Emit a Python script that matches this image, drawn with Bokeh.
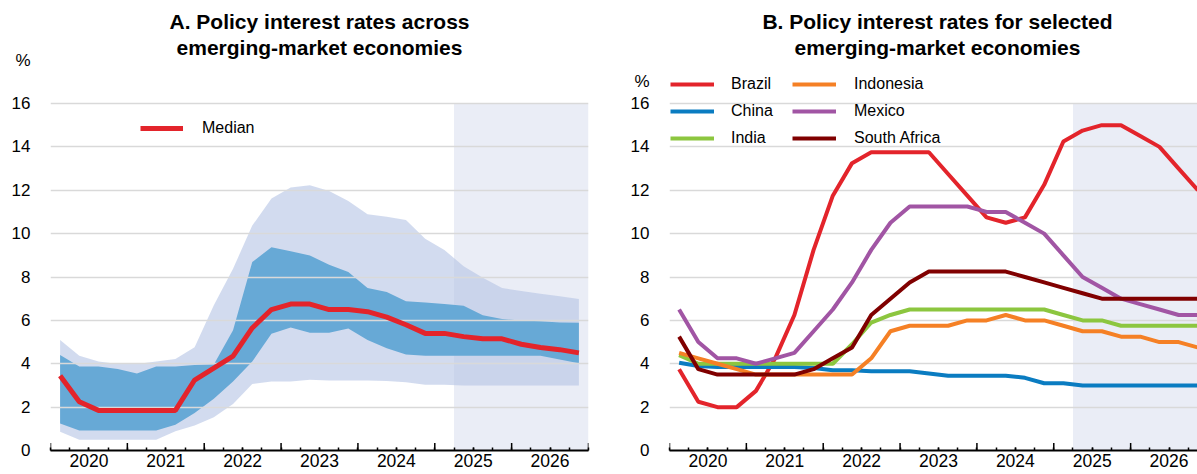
import math
from bokeh.plotting import figure
from bokeh.layouts import row
from bokeh.models import (FixedTicker, Label, Legend, LegendItem,
                          BoxAnnotation, Range1d, PrintfTickFormatter)
from bokeh.embed import file_html
from bokeh.resources import INLINE

# ---------------- data ----------------
years = list(range(2020, 2027))
quarters = [f"{y}Q{q}" for y in years for q in range(1, 5)]
forecast_start = 2025.25

# Panel A: distribution across EMEs
median = [3.45, 2.25, 1.85, 1.85, 1.85, 1.85, 1.85, 3.25, 3.8, 4.35, 5.65, 6.5, 6.75, 6.75,
          6.5, 6.5, 6.4, 6.15, 5.8, 5.4, 5.4, 5.25, 5.15, 5.15, 4.9, 4.75, 4.65, 4.5]
inner_hi = [4.4, 3.87, 3.87, 3.76, 3.55, 3.87, 3.87, 3.94, 3.97, 5.55, 8.69, 9.37, 9.19, 8.99,
            8.56, 8.23, 7.49, 7.31, 6.88, 6.82, 6.76, 6.67, 6.24, 6.06, 5.99, 5.96, 5.9, 5.89]
inner_lo = [1.24, 0.92, 0.92, 0.92, 0.92, 0.92, 1.19, 1.73, 2.39, 3.18, 4.1, 5.38, 5.67, 5.43,
            5.43, 5.63, 5.09, 4.71, 4.43, 4.37, 4.37, 4.37, 4.37, 4.37, 4.37, 4.37, 4.2, 4.02]
outer_hi = [5.09, 4.37, 4.1, 3.99, 3.99, 4.1, 4.22, 4.76, 6.7, 8.38, 10.37, 11.62, 12.13, 12.23,
            11.97, 11.51, 10.89, 10.78, 10.63, 9.76, 9.25, 8.49, 7.97, 7.49, 7.35, 7.23, 7.11, 6.99]
outer_lo = [0.86, 0.5, 0.5, 0.5, 0.5, 0.5, 0.89, 1.15, 1.53, 2.14, 3.07, 3.18, 3.18, 3.26,
            3.23, 3.23, 3.23, 3.21, 3.15, 3.03, 3.03, 3.0, 3.0, 3.0, 3.0, 3.0, 3.0, 3.0]

# Panel B: selected economies
brazil = [3.75, 2.25, 2.0, 2.0, 2.75, 4.25, 6.25, 9.25, 11.75, 13.25, 13.75, 13.75, 13.75, 13.75,
          12.75, 11.75, 10.75, 10.5, 10.75, 12.25, 14.25, 14.75, 15.0, 15.0, 14.5, 14.0, 13.0, 12.0]
china = [4.05, 3.9, 3.85, 3.85, 3.85, 3.85, 3.85, 3.8, 3.7, 3.7, 3.65, 3.65, 3.65, 3.55,
         3.45, 3.45, 3.45, 3.45, 3.35, 3.1, 3.1, 3.0, 3.0, 3.0, 3.0, 3.0, 3.0, 3.0]
india = [4.4, 4.0, 4.0, 4.0, 4.0, 4.0, 4.0, 4.0, 4.0, 4.9, 5.9, 6.25, 6.5, 6.5,
         6.5, 6.5, 6.5, 6.5, 6.5, 6.5, 6.25, 6.0, 6.0, 5.75, 5.75, 5.75, 5.75, 5.75]
indonesia = [4.5, 4.25, 4.0, 3.75, 3.5, 3.5, 3.5, 3.5, 3.5, 3.5, 4.25, 5.5, 5.75, 5.75,
             5.75, 6.0, 6.0, 6.25, 6.0, 6.0, 5.75, 5.5, 5.5, 5.25, 5.25, 5.0, 5.0, 4.75]
mexico = [6.5, 5.0, 4.25, 4.25, 4.0, 4.25, 4.5, 5.5, 6.5, 7.75, 9.25, 10.5, 11.25, 11.25,
          11.25, 11.25, 11.0, 11.0, 10.5, 10.0, 9.0, 8.0, 7.5, 7.0, 6.75, 6.5, 6.25, 6.25]
south_africa = [5.25, 3.75, 3.5, 3.5, 3.5, 3.5, 3.5, 3.75, 4.25, 4.75, 6.25, 7.0, 7.75, 8.25,
                8.25, 8.25, 8.25, 8.25, 8.0, 7.75, 7.5, 7.25, 7.0, 7.0, 7.0, 7.0, 7.0, 7.0]

countries = ["Brazil", "China", "India", "Indonesia", "Mexico", "South Africa"]
series_b = [brazil, china, india, indonesia, mexico, south_africa]
colors_b = ["#e3242b", "#0a7cc1", "#8cc63f", "#f58025", "#a155a4", "#800000"]

y_ticks = list(range(0, 17, 2))

# quarter mid-points on a continuous year axis
xq = [int(s[:4]) + (int(s[-1]) - 0.5) / 4 for s in quarters]

FONT = "Liberation Sans"
H = 474          # figure height (page y 0 .. 474)
BB = 24          # room for the x axis labels -> frame bottom at page y 450
FH = H - BB      # frame height (frame top at page y 0)
TOP16 = 103      # distance from frame top to the y=16 line
Y_TOP = 16 * FH / (FH - TOP16)


def page_to_frame(py):
    """page y (px from top of window) -> screen units above frame bottom"""
    return FH - py


def base_fig(width, left, right, x_end, pct_tick):
    p = figure(width=width, height=H, output_backend="svg", toolbar_location=None,
               x_range=Range1d(years[0], x_end), y_range=Range1d(0, Y_TOP),
               min_border_left=left, min_border_right=right,
               min_border_top=0, min_border_bottom=BB)
    p.outline_line_color = None
    p.background_fill_color = "white"
    p.xgrid.visible = False
    p.ygrid.ticker = FixedTicker(ticks=y_ticks[1:])
    p.ygrid.grid_line_color = "#d9d9d9"
    p.ygrid.grid_line_width = 1.5
    p.ygrid.level = "underlay"
    # y axis ("%" unit shown as an extra label above the top tick)
    p.yaxis.ticker = FixedTicker(ticks=y_ticks + [pct_tick])
    p.yaxis.major_label_overrides = {pct_tick: "%"}
    p.yaxis.axis_line_color = None
    p.yaxis.major_tick_line_color = None
    p.yaxis.minor_tick_line_color = None
    p.yaxis.major_label_text_font = FONT
    p.yaxis.major_label_text_font_size = "17px"
    p.yaxis.major_label_text_color = "#000000"
    p.yaxis.major_label_standoff = 14
    # x axis: labels at mid-year, short ticks every quarter
    ax = p.xaxis[0]
    ax.ticker = FixedTicker(ticks=[y + 0.5 for y in years],
                            minor_ticks=[y + q / 4 for y in years for q in range(4)] + [years[-1] + 1])
    ax.formatter = PrintfTickFormatter(format="%d")
    ax.axis_line_color = "#000000"
    ax.axis_line_width = 2
    ax.major_tick_in = 3
    ax.major_tick_out = 0
    ax.minor_tick_in = 3
    ax.minor_tick_out = 0
    ax.major_tick_line_color = "#000000"
    ax.minor_tick_line_color = "#000000"
    ax.major_tick_line_width = 1.5
    ax.minor_tick_line_width = 1.5
    ax.major_label_text_font = FONT
    ax.major_label_text_font_size = "17.5px"
    ax.major_label_text_color = "#000000"
    ax.major_label_standoff = 3
    # forecast shading (only up to the 16 line)
    shade = BoxAnnotation(left=forecast_start, bottom=0, top=16, fill_color="#eaedf6",
                          fill_alpha=1.0, line_color=None, level="image")
    p.add_layout(shade)
    return p


def add_year_ticks(p):
    # longer tick marks at the year boundaries
    p.scatter(x=years + [years[-1] + 1], y=[0] * (len(years) + 1), marker="dash",
              angle=math.pi / 2, size=15, line_color="#000000", line_width=1.5,
              fill_color=None)


def add_text(p, text, x, py, size="21px", bold=True):
    p.add_layout(Label(x=x, y=page_to_frame(py), x_units="screen", y_units="screen", text=text,
                       text_font=FONT, text_font_size=size,
                       text_font_style="bold" if bold else "normal",
                       text_color="#000000", text_align="center", text_baseline="alphabetic"))


# ---------------- Panel A ----------------
pa = base_fig(600, 50, 12, years[-1] + 1, 18)
pa.varea(x=xq, y1=outer_lo, y2=outer_hi, fill_color="#b4c3e4", fill_alpha=0.6, level="underlay")
pa.varea(x=xq, y1=inner_lo, y2=inner_hi, fill_color="#67a9d6", fill_alpha=1.0, level="underlay")
r_med = pa.line(x=xq, y=median, line_color="#e3242b", line_width=5)
add_year_ticks(pa)
leg_a = Legend(items=[LegendItem(label="Median", renderers=[r_med])],
               location=(90, page_to_frame(138)), padding=0, margin=0,
               border_line_color=None, background_fill_alpha=0,
               glyph_width=43, glyph_height=20, label_height=20, label_standoff=19,
               label_text_font=FONT, label_text_font_size="16px", label_text_color="#000000")
pa.add_layout(leg_a, "center")
add_text(pa, "A. Policy interest rates across", 269, 21)
add_text(pa, "emerging-market economies", 269, 47)

# ---------------- Panel B ----------------
pb = base_fig(597, 69, 0, 2026.87, 17)
rends = []
for name, vals, col in zip(countries, series_b, colors_b):
    rends.append(pb.line(x=xq, y=vals, line_color=col, line_width=4))
add_year_ticks(pb)

legend_common = dict(padding=0, margin=0, border_line_color=None, background_fill_alpha=0,
                     glyph_width=44, glyph_height=20, label_height=20, spacing=7,
                     label_text_font=FONT, label_text_font_size="16px", label_text_color="#000000")
leg_b1 = Legend(items=[LegendItem(label=countries[i], renderers=[rends[i]]) for i in range(3)],
                location=(1, page_to_frame(148)), label_standoff=17, **legend_common)
leg_b2 = Legend(items=[LegendItem(label=countries[i], renderers=[rends[i]]) for i in range(3, 6)],
                location=(123, page_to_frame(148)), label_standoff=18, **legend_common)
pb.add_layout(leg_b1, "center")
pb.add_layout(leg_b2, "center")
add_text(pb, "B. Policy interest rates for selected", 268, 21)
add_text(pb, "emerging-market economies", 268, 47)

layout = row(pa, pb)
open("out.html", "w").write(file_html(layout, INLINE))
